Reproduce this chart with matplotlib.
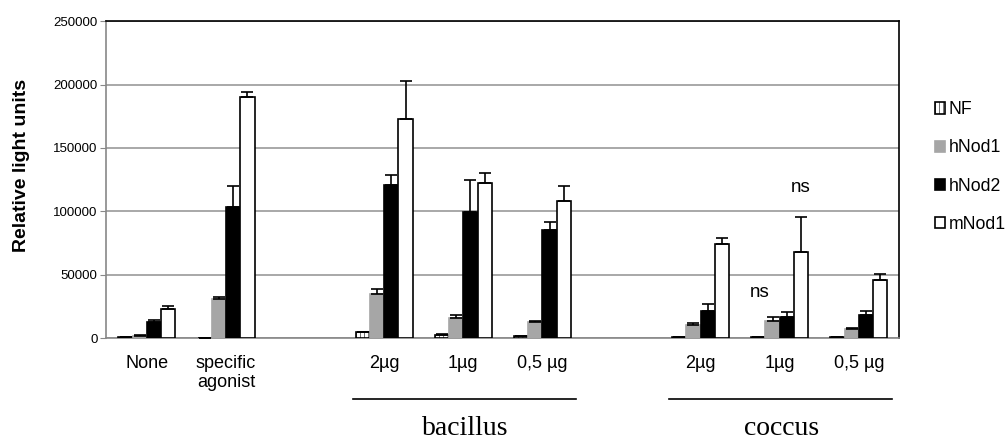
import numpy as np
import matplotlib
matplotlib.use("Agg")
import matplotlib.pyplot as plt
from matplotlib.transforms import blended_transform_factory

plt.rcParams['font.family'] = ['Liberation Sans', 'DejaVu Sans']
plt.rcParams['hatch.linewidth'] = 0.4

# slot positions of each condition (gaps between groups)
positions = [0, 1, 3, 4, 5, 7, 8, 9]
labels = ["None", "specific\nagonist", "2µg", "1µg", "0,5 µg", "2µg", "1µg", "0,5 µg"]

series = ["NF", "hNod1", "hNod2", "mNod1"]
nf = [700, 0, 4500, 2500, 1500, 1000, 500, 500]
hnod1 = [2000, 30600, 35000, 15800, 13100, 10700, 13900, 7300]
hnod2 = [12800, 103500, 120800, 99500, 85000, 21600, 17000, 18200]
mnod1 = [22700, 190000, 173000, 122400, 108500, 74500, 68000, 45500]

nf_err = [300, 0, 600, 500, 300, 200, 200, 200]
hnod1_err = [500, 1800, 4000, 2600, 400, 1400, 3100, 700]
hnod2_err = [1700, 16500, 7700, 25300, 7000, 5500, 3500, 3100]
mnod1_err = [2300, 4000, 29500, 7600, 11300, 4200, 27600, 5300]

fig = plt.figure(figsize=(10.08, 4.42), dpi=100)
ax = fig.add_axes([0.105, 0.235, 0.787, 0.717])

w = 0.18
styles = [
    dict(color="white", edgecolor="black", hatch="||||"),
    dict(color="#a6a6a6", edgecolor="#a6a6a6"),
    dict(color="black", edgecolor="black"),
    dict(color="white", edgecolor="black"),
]
values = [nf, hnod1, hnod2, mnod1]
errors = [nf_err, hnod1_err, hnod2_err, mnod1_err]
x = np.array(positions, dtype=float)
for i, (name, vals, errs, st) in enumerate(zip(series, values, errors, styles)):
    xi = x + (i - 1.5) * w
    ax.bar(xi, vals, width=w, linewidth=1.2, label=name, zorder=3, **st)
    ax.errorbar(xi, vals, yerr=[np.zeros(len(errs)), errs], fmt="none",
                ecolor="black", elinewidth=1.2, capsize=4, capthick=1.2, zorder=4)

ax.set_xlim(-0.52, 9.51)
ax.set_ylim(0, 250000)
ax.set_yticks(np.arange(0, 250001, 50000))
ax.tick_params(axis="y", labelsize=9.5, length=4, color="#888888", pad=2)
ax.set_xticks(positions)
ax.set_xticklabels(labels, fontsize=13)
ax.tick_params(axis="x", length=0, pad=12)
ax.yaxis.grid(True, color="#999999", linewidth=1.2, zorder=0)
ax.set_axisbelow(True)
for s in ["left", "bottom"]:
    ax.spines[s].set_color("#888888")
    ax.spines[s].set_linewidth(1.2)
for s in ["top", "right"]:
    ax.spines[s].set_color("black")
    ax.spines[s].set_linewidth(1.2)

ax.set_ylabel("Relative light units", fontsize=14, fontweight="bold")
ax.yaxis.set_label_coords(-0.095, 0.545)

# significance marks
ax.text(7.75, 36000, "ns", fontsize=13.5, ha="center", va="center")
ax.text(8.27, 119000, "ns", fontsize=13.5, ha="center", va="center")

# group brackets
tr = blended_transform_factory(ax.transData, ax.transAxes)
for name, lo, hi in [("bacillus", 3, 5), ("coccus", 7, 9)]:
    ax.plot([lo - 0.4, hi + 0.42], [-0.192, -0.192], transform=tr, color="black",
            linewidth=1.2, clip_on=False)
    ax.text((lo + hi) / 2 + 0.02, -0.285, name, transform=tr, ha="center", va="center",
            fontsize=20, family="Liberation Serif")

ax.legend(loc="center left", bbox_to_anchor=(1.025, 0.54), frameon=False, fontsize=12.7,
          handlelength=0.6, handleheight=0.6, handletextpad=0.2, labelspacing=1.2)

fig.savefig("out.png", dpi=100)
